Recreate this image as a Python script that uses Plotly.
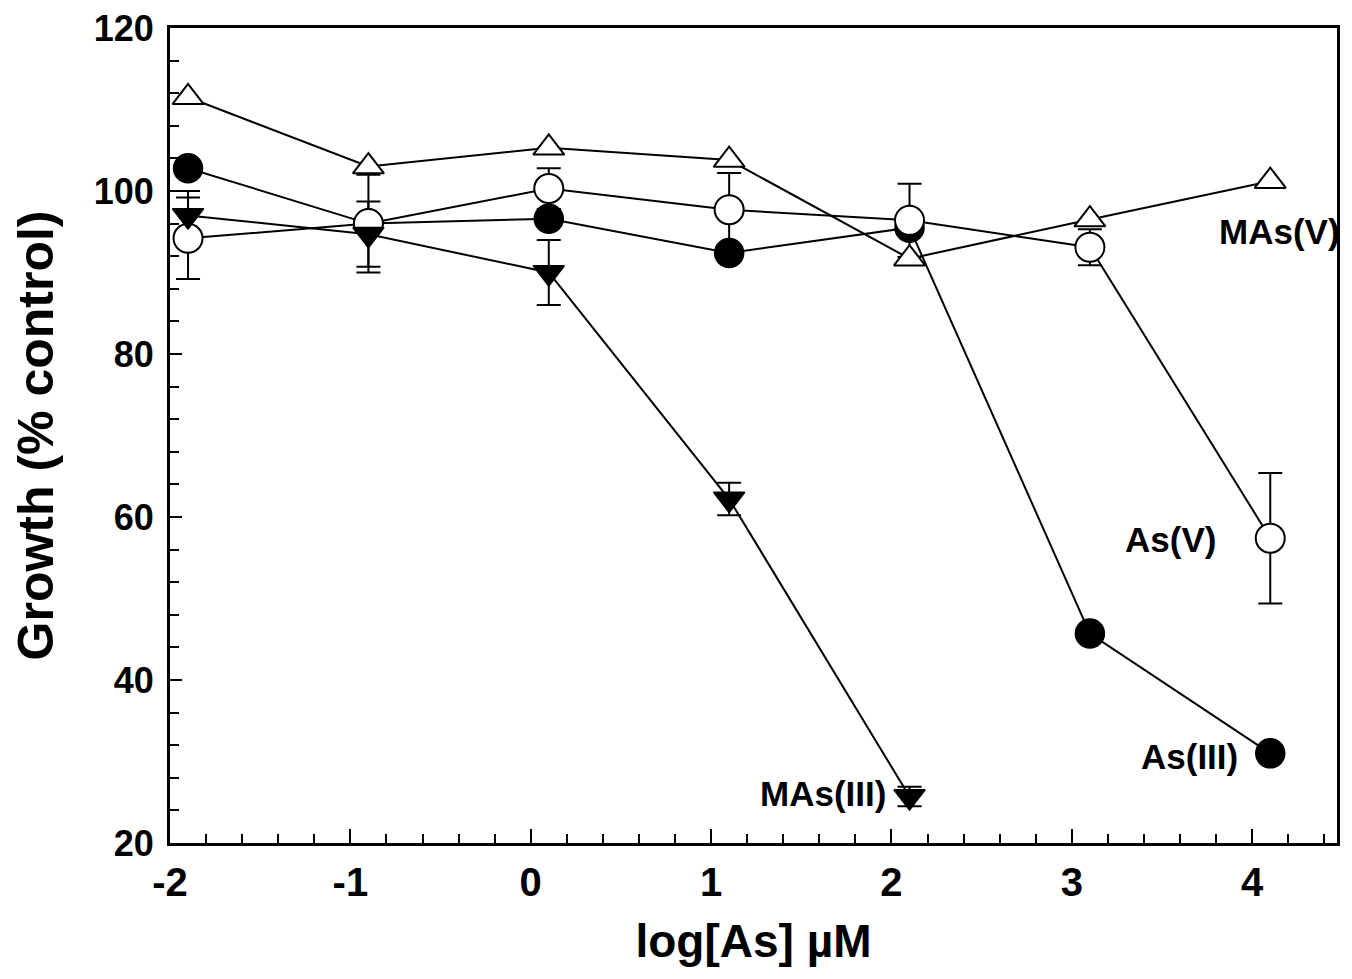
import plotly.graph_objects as go

# ---- data ----
log_as = [-1.9, -0.9, 0.1, 1.1, 2.1, 3.1, 4.1]

mas_v = [111.5, 103.0, 105.3, 103.8, 91.7, 96.5, 101.2]

as_v = [94.2, 96.0, 100.3, 97.7, 96.4, 93.1, 57.4]
as_v_err = [5.0, 6.0, 2.5, 4.5, 4.5, 2.2, 8.0]

as_iii = [102.8, 96.0, 96.6, 92.4, 95.5, 45.7, 31.0]

log_as_mas_iii = [-1.9, -0.9, 0.1, 1.1, 2.1]
mas_iii = [97.0, 94.7, 90.0, 62.2, 25.7]
mas_iii_err = [3.0, 4.0, 4.0, 2.0, 1.2]

x_ticks = [-2, -1, 0, 1, 2, 3, 4]
x_tick_text = ["-2", "-1", "0", "1", "2", "3", "4"]
y_ticks = [20, 40, 60, 80, 100, 120]

labels = ["MAs(V)", "As(V)", "As(III)", "MAs(III)"]
label_x = [4.47, 3.81, 3.93, 1.98]
label_y = [95.0, 57.2, 30.6, 26.1]
label_shift = [5, 0, 0, 0]

FONT = "Liberation Sans"
BLACK = "black"

fig = go.Figure()


def err_trace(x, y, err):
    xs, ys, es = [], [], []
    for xi, yi, ei in zip(x, y, err):
        if ei and ei > 0:
            xs.append(xi); ys.append(yi); es.append(ei)
    return go.Scatter(
        x=xs, y=ys, mode="markers",
        marker=dict(size=1, color="rgba(0,0,0,0)"),
        error_y=dict(type="data", array=es, visible=True, color=BLACK,
                     thickness=2, width=12),
        showlegend=False, hoverinfo="skip",
    )


# error bars first (under markers)
fig.add_trace(err_trace(log_as, as_v, as_v_err))
fig.add_trace(err_trace(log_as_mas_iii, mas_iii, mas_iii_err))

line = dict(color=BLACK, width=2)

# As(III) filled circles
fig.add_trace(go.Scatter(
    x=log_as, y=as_iii, mode="lines+markers", name="As(III)",
    line=line,
    marker=dict(symbol="circle", size=29, color=BLACK,
                line=dict(color=BLACK, width=1.5)),
    showlegend=False,
))
# MAs(V) open triangles
fig.add_trace(go.Scatter(
    x=log_as, y=mas_v, mode="lines+markers", name="MAs(V)",
    line=line,
    marker=dict(symbol="triangle-up", size=27, color="white",
                line=dict(color=BLACK, width=2)),
    showlegend=False,
))
# As(V) open circles
fig.add_trace(go.Scatter(
    x=log_as, y=as_v, mode="lines+markers", name="As(V)",
    line=line,
    marker=dict(symbol="circle", size=29, color="white",
                line=dict(color=BLACK, width=2)),
    showlegend=False,
))
# MAs(III) filled inverted triangles
fig.add_trace(go.Scatter(
    x=log_as_mas_iii, y=mas_iii, mode="lines+markers", name="MAs(III)",
    line=line,
    marker=dict(symbol="triangle-down", size=27, color=BLACK,
                line=dict(color=BLACK, width=1.5)),
    showlegend=False,
))

for t, lx, ly, sh in zip(labels, label_x, label_y, label_shift):
    fig.add_annotation(
        x=lx, y=ly, text=t, showarrow=False, xanchor="right", yanchor="middle",
        xshift=sh,
        font=dict(family=FONT, size=35, color=BLACK, weight="bold"),
    )

# page body adds an 8px margin, so the figure is slightly smaller
fig.update_layout(
    width=1344, height=971,
    margin=dict(l=162, r=15, t=20, b=136),
    paper_bgcolor="white", plot_bgcolor="white",
    font=dict(family=FONT, color=BLACK),
)

fig.update_xaxes(
    range=[-2, 4.47], tickmode="array", tickvals=x_ticks, ticktext=x_tick_text,
    ticks="inside", ticklen=14, tickwidth=2, tickcolor=BLACK,
    minor=dict(ticks="inside", dtick=0.2, tick0=-2, ticklen=9, tickwidth=2,
               tickcolor=BLACK, showgrid=False),
    showline=True, linecolor=BLACK, linewidth=3, mirror=True,
    showgrid=False, zeroline=False, automargin=False,
    tickfont=dict(family=FONT, size=40, color=BLACK, weight="bold"),
    ticklabelstandoff=2, ticklabeloverflow="allow",
    title=dict(text="log[As] µM",
               font=dict(family=FONT, size=46, color=BLACK, weight="bold"),
               standoff=22),
)
fig.update_yaxes(
    range=[20, 120], tickmode="array", tickvals=y_ticks,
    ticks="inside", ticklen=12, tickwidth=2, tickcolor=BLACK,
    minor=dict(ticks="inside", dtick=4, tick0=20, ticklen=9, tickwidth=2,
               tickcolor=BLACK, showgrid=False),
    showline=True, linecolor=BLACK, linewidth=3, mirror=True,
    showgrid=False, zeroline=False, automargin=False,
    tickfont=dict(family=FONT, size=36, color=BLACK, weight="bold"),
    ticklabelstandoff=6, ticklabeloverflow="allow",
    title=dict(text="Growth (% control)",
               font=dict(family=FONT, size=50, color=BLACK, weight="bold"),
               standoff=44),
)

fig.write_html("out.html")
